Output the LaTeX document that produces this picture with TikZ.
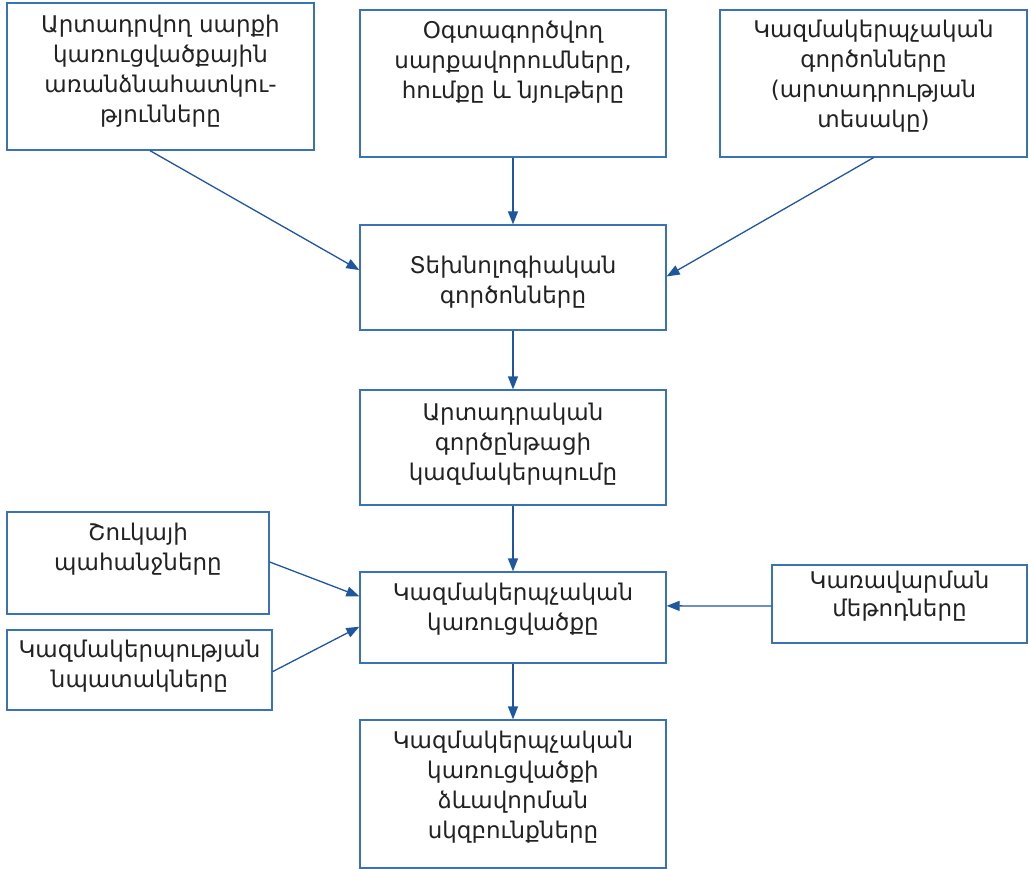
\documentclass[tikz,border=0pt]{standalone}
\usepackage{fontspec}
\setmainfont{DejaVu Sans}
\usetikzlibrary{arrows.meta,calc}
\definecolor{boxblue}{HTML}{3A72B8}
\definecolor{arrblue}{HTML}{1E56A0}
\definecolor{txt}{HTML}{222222}
\newcommand{\fl}{\rule{0pt}{18pt}}
\begin{document}
\begin{tikzpicture}[x=1pt,y=-1pt,
  box/.style={draw=boxblue,line width=1.3pt,rectangle,inner sep=0pt},
  lbl/.style={anchor=north,align=center,text=txt,inner sep=0pt,font=\fontsize{23}{30}\selectfont},
  arr/.style={draw=arrblue,line width=1.3pt,-{Triangle[length=13pt,width=10pt]}}]
\useasboundingbox (0,0) rectangle (1029,869);
% boxes
\node[box,minimum width=307pt,minimum height=147pt] (b1) at (160.5,76.5) {};
\node[box,minimum width=306pt,minimum height=147pt] (b2) at (513,83.5) {};
\node[box,minimum width=307pt,minimum height=147pt] (b3) at (873.5,83.5) {};
\node[box,minimum width=306pt,minimum height=105pt] (b4) at (513,277.5) {};
\node[box,minimum width=306pt,minimum height=115pt] (b5) at (513,447.5) {};
\node[box,minimum width=262pt,minimum height=102pt] (b6) at (138,563) {};
\node[box,minimum width=265pt,minimum height=80pt] (b7) at (139.5,670) {};
\node[box,minimum width=306pt,minimum height=91pt] (b8) at (513,617.5) {};
\node[box,minimum width=255pt,minimum height=78pt] (b9) at (899.5,604) {};
\node[box,minimum width=306pt,minimum height=148pt] (b10) at (513,794) {};
% texts (node top = first baseline - 18)
\node[lbl] (t1) at (160.5,14) {\fl Արտադրվող սարքի\\կառուցվածքային\\առանձնահատկու-\\թյունները};
\node[lbl] (t2) at (513,20) {\fl Օգտագործվող\\սարքավորումները,\\հումքը և նյութերը};
\node[lbl] (t3) at (873.5,19) {\fl Կազմակերպչական\\գործոնները\\(արտադրության\\տեսակը)};
\node[lbl] (t4) at (513,255) {\fl Տեխնոլոգիական\\գործոնները};
\node[lbl] (t5) at (513,402) {\fl Արտադրական\\գործընթացի\\կազմակերպումը};
\node[lbl] (t6) at (138,522) {\fl Շուկայի\\պահանջները};
\node[lbl] (t7) at (139.5,639) {\fl Կազմակերպության\\նպատակները};
\node[lbl] (t8) at (513,582) {\fl Կազմակերպչական\\կառուցվածքը};
\node[lbl,font=\fontsize{23}{28}\selectfont] (t9) at (899.5,570) {\fl Կառավարման\\մեթոդները};
\node[lbl] (t10) at (513,730) {\fl Կազմակերպչական\\կառուցվածքի\\ձևավորման\\սկզբունքները};
% connectors
\draw[arr] ($(b1.south west)!0.466!(b1.south east)$) -- ($(b4.north west)!0.43!(b4.south west)$);
\draw[arr] (b2.south) -- (b4.north);
\draw[arr] ($(b3.south west)!0.50!(b3.south east)$) -- ($(b4.north east)!0.49!(b4.south east)$);
\draw[arr] (b4.south) -- (b5.north);
\draw[arr] (b5.south) -- (b8.north);
\draw[arr] ($(b6.north east)!0.49!(b6.south east)$) -- ($(b8.north west)!0.27!(b8.south west)$);
\draw[arr] ($(b7.north east)!0.52!(b7.south east)$) -- ($(b8.north west)!0.60!(b8.south west)$);
\draw[arr] ($(b9.north west)!0.526!(b9.south west)$) -- ($(b8.north east)!0.374!(b8.south east)$);
\draw[arr] (b8.south) -- (b10.north);
\end{tikzpicture}
\end{document}
